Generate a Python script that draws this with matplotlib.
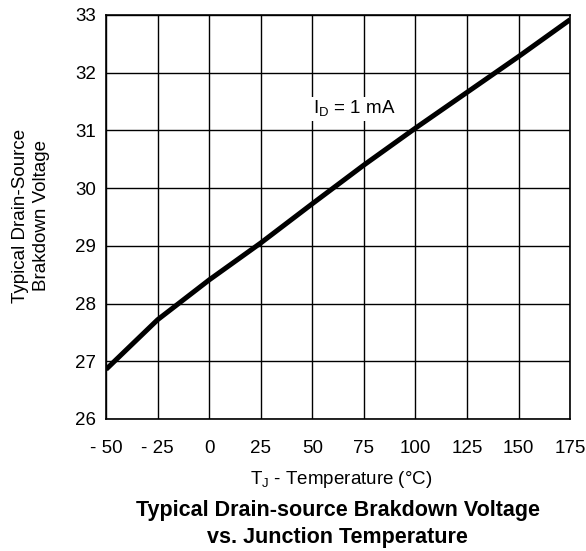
import matplotlib
matplotlib.use('Agg')
import matplotlib.pyplot as plt

plt.rcParams['font.family'] = ['Liberation Sans', 'DejaVu Sans']

# junction temperature (C) and typical breakdown voltage (V)
temp = [-50, -25, 0, 25, 50, 75, 100, 125, 150, 175]
bvdss = [26.86, 27.72, 28.41, 29.05, 29.73, 30.40, 31.04, 31.66, 32.28, 32.92]

xticks = [-50, -25, 0, 25, 50, 75, 100, 125, 150, 175]
xticklabels = ['- 50', '- 25', '0', '25', '50', '75', '100', '125', '150', '175']
yticks = [26, 27, 28, 29, 30, 31, 32, 33]

fig = plt.figure(figsize=(5.86, 5.51), dpi=100)
ax = fig.add_axes([0.181, 0.2396, 0.792, 0.7332])

ax.plot(temp, bvdss, '-', color='black', lw=3.6, solid_capstyle='butt', zorder=3)

ax.set_xlim(-50, 175)
ax.set_ylim(26, 33)
ax.set_xticks(xticks)
ax.set_xticklabels(xticklabels)
ax.set_yticks(yticks)
ax.tick_params(length=0, labelsize=13.5)
ax.tick_params(axis='x', pad=15)
ax.tick_params(axis='y', pad=7)
ax.grid(True, color='black', lw=1.0)
for s in ax.spines.values():
	s.set_linewidth(1.2)

ax.text(50.5, 31.37, r'I$_\mathregular{D}$ = 1 mA', fontsize=13.5, ha='left', va='center',
	bbox=dict(facecolor='white', edgecolor='none', pad=1.5), zorder=4)

fig.text(0.053, 0.608, 'Typical Drain-Source\nBrakdown Voltage', fontsize=13.5, rotation=90,
	ha='center', va='center', linespacing=1.35)

fig.text(0.582, 0.129, r'T$_\mathregular{J}$ - Temperature (°C)', fontsize=13.5, ha='center', va='center')
fig.text(0.576, 0.049, 'Typical Drain-source Brakdown Voltage\nvs. Junction Temperature',
	fontsize=15.5, fontweight='bold', ha='center', va='center', linespacing=1.4)

plt.savefig('out.png')
